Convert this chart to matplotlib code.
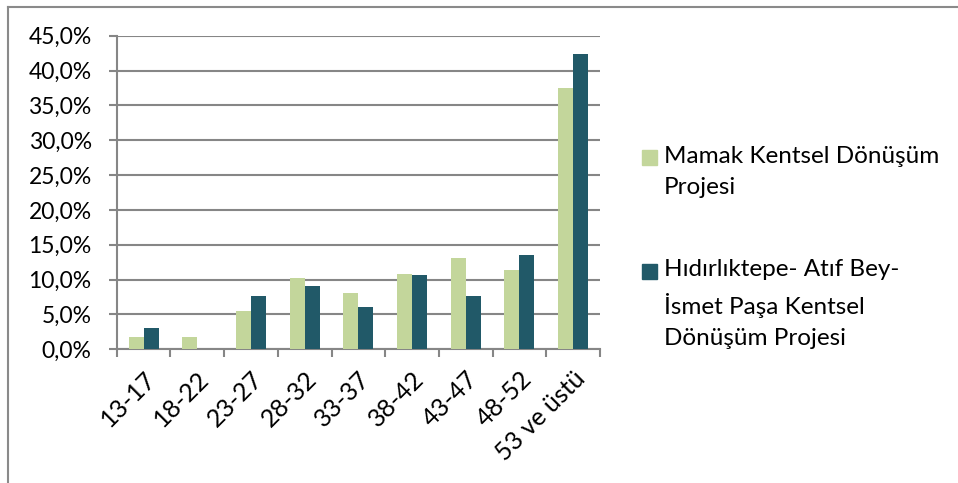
import numpy as np
import matplotlib
matplotlib.use("Agg")
import matplotlib.pyplot as plt
from matplotlib.ticker import FuncFormatter, MultipleLocator
from matplotlib.patches import Rectangle
from matplotlib.lines import Line2D

# age groups and shares (%)
groups = ["13-17", "18-22", "23-27", "28-32", "33-37",
          "38-42", "43-47", "48-52", "53 ve üstü"]
mamak = [1.7, 1.7, 5.5, 10.2, 8.1, 10.8, 13.1, 11.4, 37.5]
hidirliktepe = [3.0, 0.0, 7.6, 9.1, 6.1, 10.6, 7.6, 13.6, 42.4]
labels = ["Mamak Kentsel Dönüşüm\nProjesi",
          "Hıdırlıktepe- Atıf Bey-\nİsmet Paşa Kentsel\nDönüşüm Projesi"]

GREEN, DARK, GRID = "#C3D69B", "#215968", "#868686"
plt.rcParams["font.family"] = ["Lato", "DejaVu Sans"]
FS = 16.5

W, H = 958, 483
fig = plt.figure(figsize=(W / 100, H / 100), dpi=100)
ax = fig.add_axes([116.7 / W, 1 - 349.3 / H, (600 - 116.7) / W, (349.3 - 35.7) / H])

x = np.arange(len(groups))
bw = 0.28
ax.bar(x - bw / 2, mamak, bw, color=GREEN, zorder=3)
ax.bar(x + bw / 2, hidirliktepe, bw, color=DARK, zorder=3)

ax.set_xlim(-0.5, len(groups) - 0.5)
ax.set_ylim(0, 45)
ax.yaxis.set_major_locator(MultipleLocator(5))
ax.yaxis.set_major_formatter(FuncFormatter(lambda v, p: f"{v:.1f}%".replace(".", ",")))
ax.grid(axis="y", color=GRID, lw=1.5, zorder=0)

for s in ("top", "right"):
    ax.spines[s].set_visible(False)
for s in ("left", "bottom"):
    ax.spines[s].set_color(GRID)
    ax.spines[s].set_linewidth(1.5)

ax.set_xticks(x)
ax.set_xticklabels(groups, rotation=45, ha="right", rotation_mode="anchor", fontsize=18)
ax.tick_params(axis="x", which="major", length=0, pad=13)
ax.set_xticks(np.arange(len(groups) + 1) - 0.5, minor=True)
ax.tick_params(axis="x", which="minor", length=6, width=1.5, color=GRID)
ax.tick_params(axis="y", length=6, width=1.5, color=GRID, labelsize=FS, pad=12)

# legend, drawn by hand so the swatch sits by the first line
for i, (lab, c) in enumerate(zip(labels, [GREEN, DARK])):
    yc = [157.5, 271.5][i]
    fig.patches.append(Rectangle((642 / W, 1 - (yc + 7.5) / H), 15 / W, 15 / H,
                                 transform=fig.transFigure, color=c))
    fig.text(664 / W, 1 - (yc - 12) / H, lab, fontsize=17.5, va="top",
             ha="left", linespacing=1.6)

# outer frame (left and top only)
fig.lines.append(Line2D([7.5 / W, 7.5 / W], [0, 1 - 6.5 / H], color="#8a8a8a",
                        lw=1.5, transform=fig.transFigure))
fig.lines.append(Line2D([7.5 / W, 1], [1 - 6.5 / H, 1 - 6.5 / H], color="#8a8a8a",
                        lw=1.5, transform=fig.transFigure))

fig.savefig("out.png", dpi=100)
